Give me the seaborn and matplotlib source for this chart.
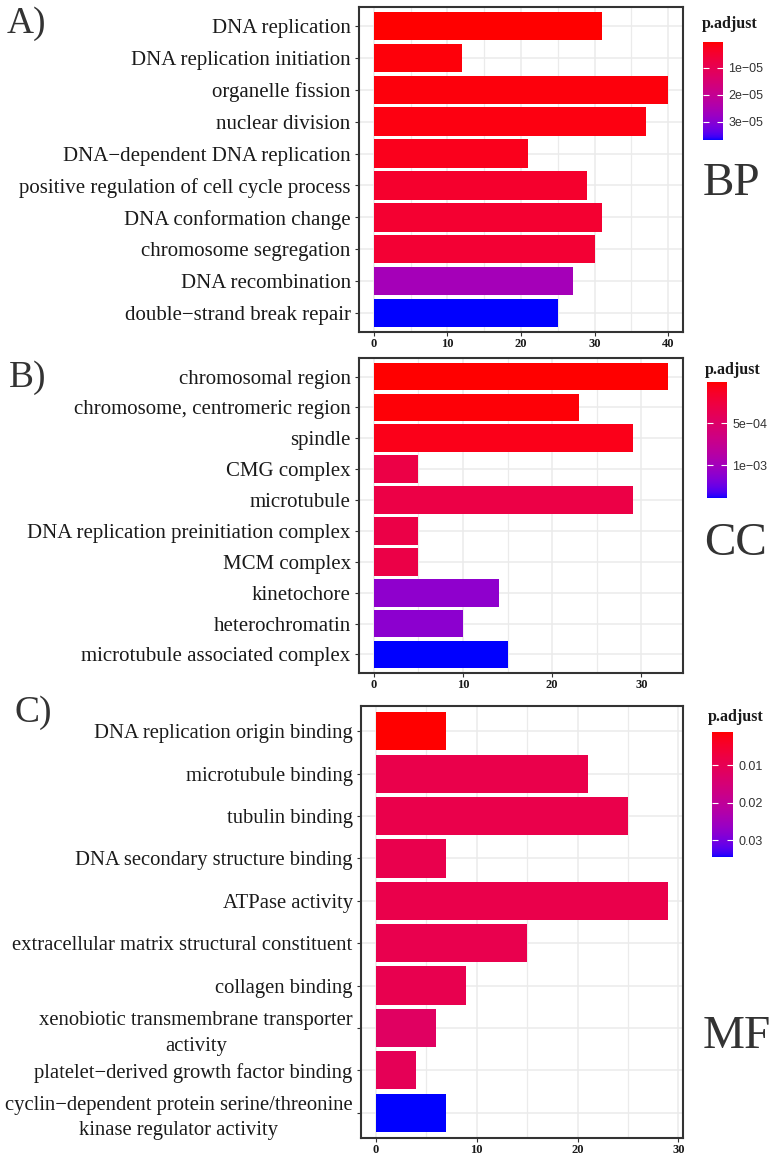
import numpy as np
import pandas as pd
import matplotlib
matplotlib.use("Agg")
import matplotlib.pyplot as plt
import seaborn as sns
from matplotlib.colors import LinearSegmentedColormap, Normalize
from matplotlib.cm import ScalarMappable
from matplotlib.ticker import MultipleLocator

plt.rcParams['font.family'] = ['Liberation Serif', 'DejaVu Serif']

# ---------------- data ----------------
bp_terms = ["DNA replication", "DNA replication initiation", "organelle fission",
            "nuclear division", "DNA\u2212dependent DNA replication",
            "positive regulation of cell cycle process", "DNA conformation change",
            "chromosome segregation", "DNA recombination", "double\u2212strand break repair"]
bp_count = [31, 12, 40, 37, 21, 29, 31, 30, 27, 25]
bp_padj = [4.0e-7, 1.0e-6, 1.2e-6, 1.5e-6, 2.5e-6, 4.5e-6, 5.0e-6, 5.5e-6, 2.6e-5, 3.67e-5]
bp_ticks = [1e-5, 2e-5, 3e-5]
bp_ticklabels = ["1e\u221205", "2e\u221205", "3e\u221205"]

cc_terms = ["chromosomal region", "chromosome, centromeric region", "spindle",
            "CMG complex", "microtubule", "DNA replication preinitiation complex",
            "MCM complex", "kinetochore", "heterochromatin",
            "microtubule associated complex"]
cc_count = [33, 23, 29, 5, 29, 5, 5, 14, 10, 15]
cc_padj = [1.2e-5, 3.0e-5, 8.0e-5, 3.0e-4, 3.0e-4, 3.1e-4, 3.1e-4, 1.1e-3, 1.12e-3, 1.39e-3]
cc_ticks = [5e-4, 1e-3]
cc_ticklabels = ["5e\u221204", "1e\u221203"]

mf_terms = ["DNA replication origin binding", "microtubule binding", "tubulin binding",
            "DNA secondary structure binding", "ATPase activity",
            "extracellular matrix structural constituent", "collagen binding",
            "xenobiotic transmembrane transporter\nactivity",
            "platelet\u2212derived growth factor binding",
            "cyclin\u2212dependent protein serine/threonine\nkinase regulator activity"]
mf_count = [7, 21, 25, 7, 29, 15, 9, 6, 4, 7]
mf_padj = [0.0012, 0.0090, 0.0090, 0.0092, 0.0090, 0.0093, 0.0095, 0.0120, 0.0105, 0.0345]
mf_ticks = [0.01, 0.02, 0.03]
mf_ticklabels = ["0.01", "0.02", "0.03"]


# ---------------- colour ramp in CIELAB (red -> blue) ----------------
def _s2l(c):
    c = np.asarray(c, float)
    return np.where(c <= 0.04045, c / 12.92, ((c + 0.055) / 1.055) ** 2.4)


def _l2s(c):
    c = np.clip(c, 0, 1)
    return np.where(c <= 0.0031308, 12.92 * c, 1.055 * c ** (1 / 2.4) - 0.055)


_M = np.array([[0.4124, 0.3576, 0.1805], [0.2126, 0.7152, 0.0722], [0.0193, 0.1192, 0.9505]])
_W = np.array([0.95047, 1.0, 1.08883])
_d = 6 / 29


def _f(t):
    return np.where(t > _d ** 3, np.cbrt(t), t / (3 * _d ** 2) + 4 / 29)


def _finv(t):
    return np.where(t > _d, t ** 3, 3 * _d ** 2 * (t - 4 / 29))


def rgb2lab(rgb):
    xyz = _M @ _s2l(rgb) / _W
    fx, fy, fz = _f(xyz)
    return np.array([116 * fy - 16, 500 * (fx - fy), 200 * (fy - fz)])


def lab2rgb(lab):
    L, a, b = lab
    fy = (L + 16) / 116
    fx = fy + a / 500
    fz = fy - b / 200
    xyz = np.array([_finv(fx), _finv(fy), _finv(fz)]) * _W
    return _l2s(np.linalg.solve(_M, xyz))


lab_r = rgb2lab([1, 0, 0])
lab_b = rgb2lab([0, 0, 1])
ramp = [tuple(np.clip(lab2rgb(lab_r + (lab_b - lab_r) * t), 0, 1)) for t in np.linspace(0, 1, 256)]
cmap = LinearSegmentedColormap.from_list("redblue", ramp)

# ---------------- figure ----------------
W, H = 779, 1159
fig = plt.figure(figsize=(W / 100, H / 100), dpi=100)
fig.patch.set_facecolor("white")


def fx(px):
    return px / W


def fy(py):
    return 1 - py / H


panels = [
    dict(terms=bp_terms, count=bp_count, padj=bp_padj, ticks=bp_ticks, tl=bp_ticklabels,
         box=(359, 7, 683, 332), xlim=(-2.0, 42.0), xt=[0, 10, 20, 30, 40],
         cbar=(703, 42, 723, 140), title=(702, 24), tag="A)", tagpos=(7, 33),
         name="BP", namepos=(732, 195), fs=15.0),
    dict(terms=cc_terms, count=cc_count, padj=cc_padj, ticks=cc_ticks, tl=cc_ticklabels,
         box=(359, 358, 683, 673), xlim=(-1.65, 34.65), xt=[0, 10, 20, 30],
         cbar=(707, 382, 727, 498), title=(705, 370), tag="B)", tagpos=(9, 387),
         name="CC", namepos=(735, 555), fs=15.0),
    dict(terms=mf_terms, count=mf_count, padj=mf_padj, ticks=mf_ticks, tl=mf_ticklabels,
         box=(361, 706, 683, 1138), xlim=(-1.45, 30.45), xt=[0, 10, 20, 30],
         cbar=(712, 732, 733, 857), title=(708, 717), tag="C)", tagpos=(14, 722),
         name="MF", namepos=(737, 1048), fs=14.9),
]

for p in panels:
    x0, y0, x1, y1 = p["box"]
    ax = fig.add_axes([fx(x0), fy(y1), fx(x1 - x0), (y1 - y0) / H])
    norm = Normalize(vmin=min(p["padj"]), vmax=max(p["padj"]))
    df = pd.DataFrame({"Description": p["terms"], "Count": p["count"], "p.adjust": p["padj"]})
    pal = {t: cmap(norm(v)) for t, v in zip(p["terms"], p["padj"])}
    sns.barplot(data=df, x="Count", y="Description", hue="Description", palette=pal,
                order=p["terms"], hue_order=p["terms"], orient="h", width=0.9,
                saturation=1, legend=False, ax=ax, linewidth=0)
    n = len(p["terms"])
    ax.set_ylim(n - 0.4, -0.6)
    ax.set_xlim(*p["xlim"])
    ax.set_xticks(p["xt"])
    ax.xaxis.set_minor_locator(MultipleLocator(5))
    ax.set_axisbelow(True)
    ax.grid(True, which="major", axis="both", color="#EBEBEB", lw=1.1)
    ax.grid(True, which="minor", axis="x", color="#EBEBEB", lw=0.9)
    ax.set_xlabel("")
    ax.set_ylabel("")
    for s in ax.spines.values():
        s.set_color("#333333")
        s.set_linewidth(1.5)
    ax.tick_params(axis="y", length=3, width=0.8, color="#333333", pad=3,
                   labelsize=p["fs"], labelcolor="#1a1a1a")
    ax.tick_params(axis="x", which="major", length=3, width=0.8, color="#333333", pad=1.5,
                   labelsize=9, labelcolor="#1a1a1a")
    ax.tick_params(axis="x", which="minor", length=0)
    for t in ax.get_xticklabels():
        t.set_fontweight("bold")
    for t in ax.get_yticklabels():
        t.set_multialignment("center")
        t.set_linespacing(1.45)

    # colourbar
    cx0, cy0, cx1, cy1 = p["cbar"]
    cax = fig.add_axes([fx(cx0), fy(cy1), fx(cx1 - cx0), (cy1 - cy0) / H])
    cb = fig.colorbar(ScalarMappable(norm=norm, cmap=cmap), cax=cax)
    cb.outline.set_visible(False)
    cax.invert_yaxis()
    cb.set_ticks(p["ticks"])
    cb.set_ticklabels(p["tl"])
    cax.tick_params(direction="in", length=4, width=0.8, color="white",
                    left=True, right=True, labelleft=False, labelright=True,
                    labelsize=9, labelcolor="#333333", pad=4)
    for t in cax.get_yticklabels():
        t.set_family(["Liberation Sans", "DejaVu Sans"])
    fig.text(fx(p["title"][0]), fy(p["title"][1]), "p.adjust", fontsize=11.5,
             fontweight="bold", ha="left", va="center", color="#1a1a1a")

    fig.text(fx(p["tagpos"][0]), fy(p["tagpos"][1]), p["tag"], fontsize=27,
             ha="left", va="baseline", color="#333333")
    fig.text(fx(p["namepos"][0]), fy(p["namepos"][1]), p["name"], fontsize=34,
             ha="center", va="baseline", color="#333333")

fig.savefig("out.png", dpi=100, facecolor="white")
